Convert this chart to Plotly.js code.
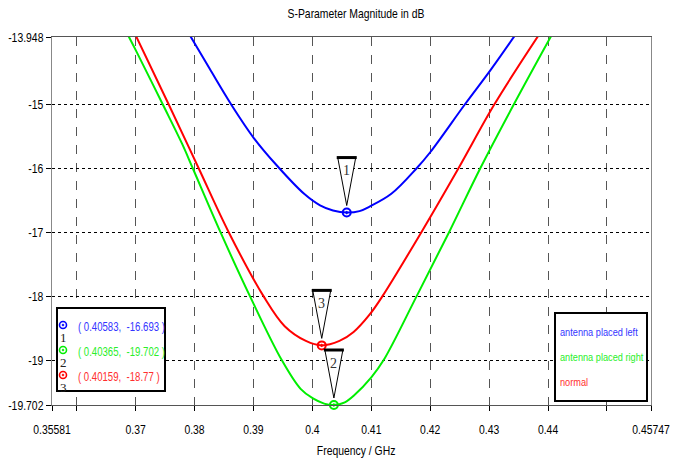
<!DOCTYPE html>
<html>
<head>
<meta charset="utf-8">
<script src="https://cdn.plot.ly/plotly-3.0.1.min.js"></script>
<style>html,body{margin:0;padding:0;background:#fff;}#chart{width:685px;height:467px;}</style>
</head>
<body>
<div id="chart"></div>
<script>
// ---- data ----
var seriesNames = ['antenna placed left', 'antenna placed right', 'normal'];

var leftFreq = [0.3792, 0.3826, 0.3862, 0.3900, 0.3939, 0.3986, 0.4013, 0.4035, 0.40583, 0.4080, 0.4097, 0.4134, 0.4177, 0.4200, 0.4259, 0.4302, 0.4344];
var leftDb   = [-13.92, -14.45, -15.0, -15.52, -15.95, -16.40, -16.58, -16.66, -16.693, -16.67, -16.60, -16.40, -16.0, -15.75, -15.0, -14.47, -13.92];

var rightFreq = [0.3686, 0.3700, 0.3746, 0.3779, 0.3797, 0.3844, 0.3894, 0.3948, 0.3980, 0.4001, 0.4020, 0.40365, 0.4055, 0.4071, 0.4100, 0.4121, 0.4177, 0.4232, 0.4285, 0.4342, 0.4406];
var rightDb   = [-13.90, -14.15, -15.0, -15.62, -16.0, -17.0, -18.0, -19.0, -19.45, -19.60, -19.68, -19.702, -19.66, -19.55, -19.27, -19.0, -18.0, -17.0, -16.0, -15.0, -13.92];

var normalFreq = [0.3700, 0.3756, 0.3807, 0.3858, 0.3917, 0.3953, 0.3989, 0.40159, 0.4046, 0.4070, 0.4097, 0.4119, 0.4185, 0.4248, 0.4309, 0.4384];
var normalDb   = [-13.92, -15.0, -16.0, -17.0, -18.0, -18.47, -18.70, -18.77, -18.70, -18.56, -18.29, -18.0, -17.0, -16.0, -15.0, -13.92];

var markerIds  = ['1', '2', '3'];
var markerFreq = [0.40583, 0.40365, 0.40159];
var markerDb   = [-16.693, -19.702, -18.77];

var xTickVals = [0.35581, 0.36, 0.37, 0.38, 0.39, 0.40, 0.41, 0.42, 0.43, 0.44, 0.45, 0.45747];
var xTickText = ['0.35581', '', '0.37', '0.38', '0.39', '0.4', '0.41', '0.42', '0.43', '0.44', '', '0.45747'];
var yTickVals = [-19.702, -19, -18, -17, -16, -15, -13.948];
var yTickText = ['-19.702', '-19', '-18', '-17', '-16', '-15', '-13.948'];

// ---- styling ----
var FONT = '"Liberation Sans", Arial, sans-serif';
var SERIF = '"Liberation Serif", "DejaVu Serif", serif';
var NARROW = 0.8;
var lineColors = ['#0000ff', '#00ee00', '#ff0000'];
var textColors = ['#3434ff', '#2aee2a', '#ff2e2e'];

var L = 52, R = 651, T = 37, B = 405;
function px2paperX(px) { return (px - L) / (R - L); }
function py2paperY(py) { return (B - py) / (B - T); }

var xs = [leftFreq, rightFreq, normalFreq];
var ys = [leftDb, rightDb, normalDb];

var traces = [];
for (var i = 0; i < 3; i++) {
  traces.push({
    x: xs[i], y: ys[i], type: 'scatter', mode: 'lines', name: seriesNames[i],
    line: {color: lineColors[i], width: 2, shape: 'spline', smoothing: 1},
    hoverinfo: 'skip'
  });
}
for (var m = 0; m < 3; m++) {
  traces.push({
    x: [markerFreq[m]], y: [markerDb[m]], type: 'scatter', mode: 'markers',
    marker: {symbol: 'circle-open-dot', size: 8, color: lineColors[m], line: {width: 2, color: lineColors[m]}},
    cliponaxis: false, hoverinfo: 'skip'
  });
}

var shapes = [];
var annotations = [];

// callout triangles
for (var k = 0; k < 3; k++) {
  shapes.push({
    type: 'path', xref: 'x', yref: 'y', xsizemode: 'pixel', ysizemode: 'pixel',
    xanchor: markerFreq[k], yanchor: markerDb[k],
    path: 'M0,7 L-9,55 L9,55 Z',
    fillcolor: '#ffffff', line: {color: '#000', width: 1}, layer: 'above'
  });
  shapes.push({
    type: 'path', xref: 'x', yref: 'y', xsizemode: 'pixel', ysizemode: 'pixel',
    xanchor: markerFreq[k], yanchor: markerDb[k],
    path: 'M-10,55 L10,55',
    line: {color: '#000', width: 3}, layer: 'above'
  });
  annotations.push({
    x: markerFreq[k], y: markerDb[k], xref: 'x', yref: 'y', yshift: 42,
    text: markerIds[k], showarrow: false,
    font: {family: SERIF, size: 14, color: '#333'}
  });
}

// left marker info box
shapes.push({
  type: 'rect', xref: 'paper', yref: 'paper',
  x0: px2paperX(57), x1: px2paperX(165), y0: py2paperY(391), y1: py2paperY(308),
  fillcolor: '#fff', line: {color: '#000', width: 2}, layer: 'above'
});
var rowPy = [325, 350, 375];
for (var r = 0; r < 3; r++) {
  shapes.push({
    type: 'circle', xref: 'paper', yref: 'paper', xsizemode: 'pixel', ysizemode: 'pixel',
    xanchor: px2paperX(63), yanchor: py2paperY(rowPy[r]),
    x0: -3.5, x1: 3.5, y0: -3.5, y1: 3.5,
    line: {color: lineColors[r], width: 1.6}, layer: 'above'
  });
  shapes.push({
    type: 'circle', xref: 'paper', yref: 'paper', xsizemode: 'pixel', ysizemode: 'pixel',
    xanchor: px2paperX(63), yanchor: py2paperY(rowPy[r]),
    x0: -1, x1: 1, y0: -1, y1: 1,
    fillcolor: lineColors[r], line: {color: lineColors[r], width: 0.5}, layer: 'above'
  });
  annotations.push({
    x: px2paperX(63), y: py2paperY(rowPy[r] + 12.5), xref: 'paper', yref: 'paper',
    text: markerIds[r], showarrow: false, xanchor: 'center', yanchor: 'middle',
    font: {family: SERIF, size: 13, color: '#222'}
  });
  annotations.push({
    x: px2paperX(76), y: py2paperY(rowPy[r] + 1.5), xref: 'paper', yref: 'paper',
    text: '( ' + markerFreq[r] + ',  ' + markerDb[r] + ' )', showarrow: false,
    xanchor: 'left', yanchor: 'middle', align: 'left',
    font: {family: FONT, size: 12, color: textColors[r]}
  });
}

// right legend box
shapes.push({
  type: 'rect', xref: 'paper', yref: 'paper',
  x0: px2paperX(555), x1: px2paperX(647), y0: py2paperY(401), y1: py2paperY(313),
  fillcolor: '#fff', line: {color: '#000', width: 2}, layer: 'above'
});
var legPy = [331.5, 356.5, 381.5];
for (var g = 0; g < 3; g++) {
  annotations.push({
    x: px2paperX(558), y: py2paperY(legPy[g]), xref: 'paper', yref: 'paper',
    text: seriesNames[g], showarrow: false, xanchor: 'left', yanchor: 'middle', align: 'left',
    font: {family: FONT, size: 11.5, color: textColors[g]}
  });
}

// x axis title
annotations.push({
  x: px2paperX(356), y: py2paperY(450), xref: 'paper', yref: 'paper',
  text: 'Frequency / GHz', showarrow: false, xanchor: 'center', yanchor: 'middle',
  font: {family: FONT, size: 13, color: '#000'}
});

var layout = {
  width: 685, height: 467,
  margin: {l: L, r: 685 - R, t: T, b: 467 - B, pad: 0},
  paper_bgcolor: '#ffffff', plot_bgcolor: '#ffffff',
  showlegend: false,
  font: {family: FONT, size: 13, color: '#000'},
  title: {text: 'S-Parameter Magnitude in dB', x: 356 / 685, xanchor: 'center', y: 1 - 13 / 467, yanchor: 'middle',
          font: {family: FONT, size: 13, color: '#000'}},
  xaxis: {
    range: [0.35581, 0.45747], tickmode: 'array', tickvals: xTickVals, ticktext: xTickText,
    showgrid: true, gridcolor: '#555', griddash: 'dash', gridwidth: 1,
    showline: true, linecolor: '#555', linewidth: 1, mirror: true,
    ticks: 'outside', ticklen: 5, tickcolor: '#000', ticklabelstandoff: 7,
    tickfont: {family: FONT, size: 13, color: '#000'},
    zeroline: false, fixedrange: true
  },
  yaxis: {
    range: [-19.702, -13.948], tickmode: 'array', tickvals: yTickVals, ticktext: yTickText,
    showgrid: true, gridcolor: '#000', griddash: 'dot', gridwidth: 1,
    showline: true, linecolor: '#888', linewidth: 1, mirror: true,
    ticks: 'outside', ticklen: 5, tickcolor: '#000', ticklabelstandoff: 0,
    tickfont: {family: FONT, size: 13, color: '#000'},
    zeroline: false, fixedrange: true
  },
  shapes: shapes,
  annotations: annotations
};

// condense the sans-serif texts horizontally (the reference uses a narrow UI font)
function condense(gd) {
  var texts = gd.querySelectorAll('svg text');
  texts.forEach(function (el) {
    var fam = el.style.fontFamily || '';
    if (fam.indexOf('Serif') !== -1) return;
    var cur = el.getAttribute('transform') || '';
    if (el.__condensedTr !== undefined && cur === el.__condensedTr) return;
    var ax = parseFloat(el.getAttribute('x')) || 0;
    var next = cur + ' translate(' + ax + ',0) scale(' + NARROW + ',1) translate(' + (-ax) + ',0)';
    el.setAttribute('transform', next);
    el.__condensedTr = el.getAttribute('transform');
  });
}

var gdEl = document.getElementById('chart');
Plotly.newPlot(gdEl, traces, layout, {displayModeBar: false, staticPlot: true}).then(function (gd) {
  condense(gd);
  gd.on('plotly_afterplot', function () { condense(gd); });
  setTimeout(function () { condense(gd); }, 30);
  setTimeout(function () { condense(gd); }, 200);
});
</script>
</body>
</html>
